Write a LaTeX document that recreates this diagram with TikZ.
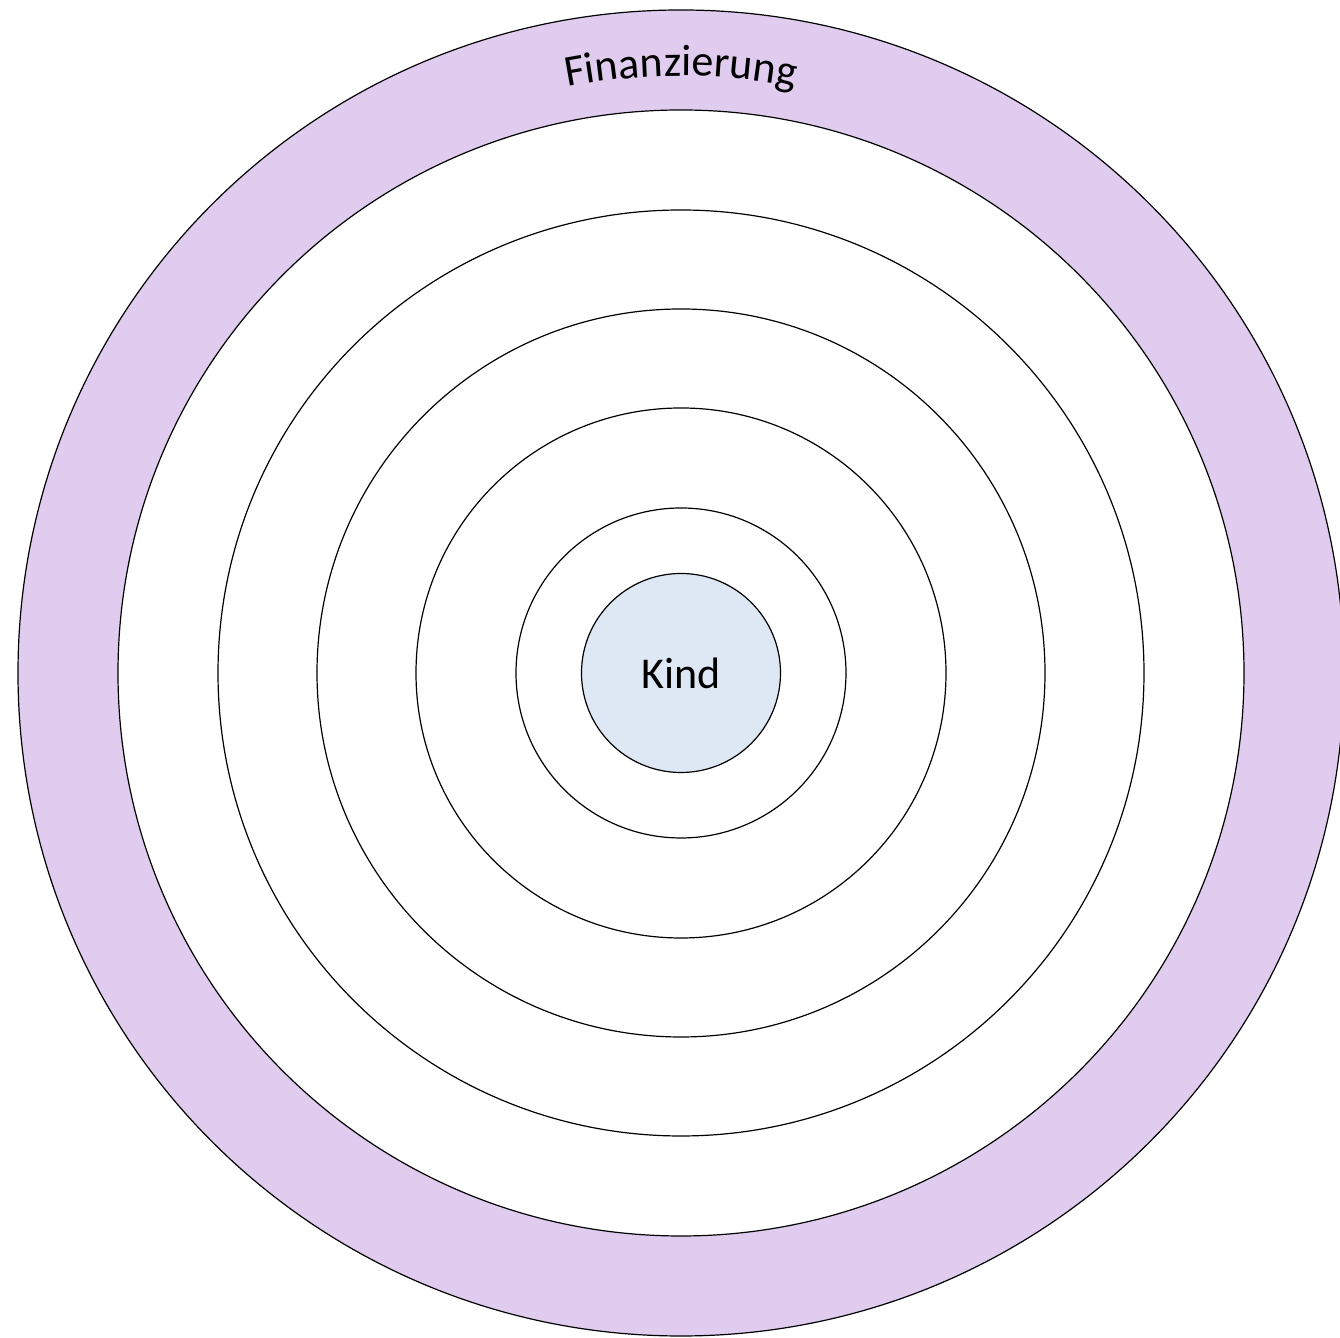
\documentclass[tikz,border=0pt]{standalone}
\usepackage{fontspec}
\setmainfont{Carlito}
\usetikzlibrary{decorations.text}

\definecolor{finlila}{RGB}{224,204,238}
\definecolor{kindblau}{RGB}{222,232,245}
\newfontfamily\ringfont{Carlito}

\begin{document}
\begin{tikzpicture}[
  x=0.75pt, y=0.75pt,
  ring/.style={draw, circle, inner sep=0pt, line width=0.9pt, fill=white},
  kindtext/.style={font=\ringfont\fontsize{33}{40}\selectfont}
]
\useasboundingbox (0,0) rectangle (1340,1338);
\coordinate (mitte) at (681,665);

% outer ring with the financing label
\node[ring, fill=finlila, minimum size=994.5pt] (finanz) at (mitte) {};
\path[decorate, decoration={text along path, text align=center,
      text={|\ringfont\fontsize{33}{40}\selectfont|Finanzierung}}]
  (mitte) ++(112:597) arc[start angle=112, end angle=68, radius=597];

% empty rings
\foreach \d/\n in {844.5/ring5, 694.5/ring4, 546/ring3, 397.5/ring2, 247.5/ring1}
  \node[ring, minimum size=\d pt] (\n) at (mitte) {};

\node[ring, fill=kindblau, minimum size=149.25pt, kindtext] (kind) at (mitte) {Kind};
\end{tikzpicture}
\end{document}
